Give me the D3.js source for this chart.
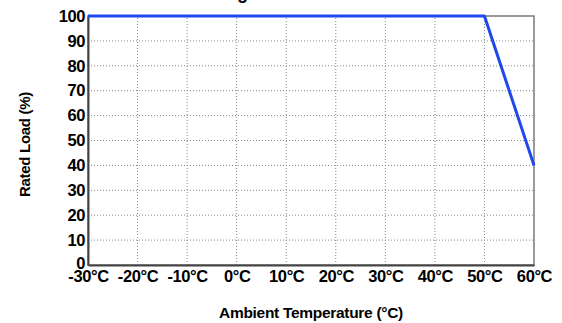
<!DOCTYPE html>
<html>
<head>
<meta charset="utf-8">
<script src="https://cdn.jsdelivr.net/npm/d3@7"></script>
<style>
  body { margin: 0; background: #fff; }
  svg { display: block; font-family: "Liberation Sans", Arial, Helvetica, sans-serif; }
</style>
</head>
<body>
<svg id="chart" width="562" height="323"></svg>
<script>
// derating curve data
const temps = [-30, 50, 60];
const loads = [100, 100, 40];
const xTicks = [-30, -20, -10, 0, 10, 20, 30, 40, 50, 60];
const yTicks = [0, 10, 20, 30, 40, 50, 60, 70, 80, 90, 100];
const title = 'Derating Curve';

const width = 562;
const height = 323;
const margin = { top: 16, right: 28, bottom: 58, left: 88 };

const svg = d3.select('#chart');

const x = d3.scaleLinear()
  .domain([-30, 60])
  .range([margin.left, width - margin.right]);

const y = d3.scaleLinear()
  .domain([0, 100])
  .range([height - margin.bottom, margin.top]);

// title is cut off at the top of the picture, only the descender shows
svg.append('text')
  .attr('x', 175)
  .attr('y', -1)
  .style('font-size', '18px')
  .style('font-weight', 'bold')
  .text(title);

// dotted grid
svg.append('g')
  .selectAll('line')
  .data(xTicks.slice(1, -1))
  .join('line')
  .attr('x1', d => x(d))
  .attr('x2', d => x(d))
  .attr('y1', y(0))
  .attr('y2', y(100))
  .attr('stroke', '#888')
  .attr('stroke-width', 1)
  .attr('stroke-dasharray', '1,2');

svg.append('g')
  .selectAll('line')
  .data(yTicks.slice(1, -1))
  .join('line')
  .attr('x1', x(-30))
  .attr('x2', x(60))
  .attr('y1', d => y(d))
  .attr('y2', d => y(d))
  .attr('stroke', '#888')
  .attr('stroke-width', 1)
  .attr('stroke-dasharray', '1,2');

// frame: top and right lighter
svg.append('rect')
  .attr('x', x(-30))
  .attr('y', y(100))
  .attr('width', x(60) - x(-30))
  .attr('height', y(0) - y(100))
  .attr('fill', 'none')
  .attr('stroke', '#7a7a7a')
  .attr('stroke-width', 1.5);

// axes
const xAxis = svg.append('g')
  .attr('transform', `translate(0,${y(0)})`)
  .call(d3.axisBottom(x).tickValues(xTicks).tickSize(0).tickPadding(5).tickFormat(d => d + '°C'));

const yAxis = svg.append('g')
  .attr('transform', `translate(${x(-30)},0)`)
  .call(d3.axisLeft(y).tickValues(yTicks).tickSize(0).tickPadding(3));

[xAxis, yAxis].forEach(a => {
  a.select('.domain').attr('stroke', '#444').attr('stroke-width', 2);
  a.selectAll('text')
    .attr('fill', '#000')
    .style('font-size', '16.5px')
    .style('font-weight', 'bold')
    .style('font-family', '"Liberation Sans", Arial, Helvetica, sans-serif')
    .style('letter-spacing', '-0.4px');
});
// "0" sits a little above the axis line
yAxis.selectAll('.tick').filter(d => d === 0).select('text').attr('dy', '0.2em');

// derating line
const line = d3.line()
  .x((d, i) => x(temps[i]))
  .y(d => y(d));

svg.append('path')
  .datum(loads)
  .attr('d', line)
  .attr('fill', 'none')
  .attr('stroke', '#1f47f0')
  .attr('stroke-width', 3)
  .attr('stroke-linejoin', 'round');

// axis titles
svg.append('text')
  .attr('x', (x(-30) + x(60)) / 2)
  .attr('y', 318)
  .attr('text-anchor', 'middle')
  .style('font-size', '15.5px')
  .style('font-weight', 'bold')
  .style('letter-spacing', '-0.3px')
  .text('Ambient Temperature (°C)');

svg.append('text')
  .attr('transform', `translate(30,${(y(0) + y(100)) / 2 + 4}) rotate(-90)`)
  .attr('text-anchor', 'middle')
  .style('font-size', '15px')
  .style('font-weight', 'bold')
  .style('letter-spacing', '-0.3px')
  .text('Rated Load (%)');
</script>
</body>
</html>
